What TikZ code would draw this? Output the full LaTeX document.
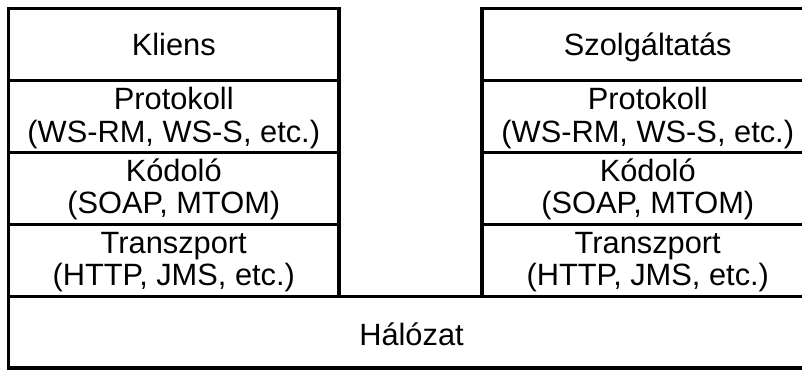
\documentclass[tikz,border=0pt]{standalone}
\usepackage{fontspec}
\setmainfont{Liberation Sans}
\begin{document}
\begin{tikzpicture}[x=1pt,y=-1pt,
  layer/.style={draw, line width=3.2pt, inner sep=0pt, outer sep=0pt,
    anchor=north west, minimum height=72pt},
  lbl/.style={anchor=base, inner sep=0pt,
    font=\fontsize{30.8}{34}\selectfont}]
\useasboundingbox (0,0) rectangle (802,370);
\clip (0,0) rectangle (802,370);
\fill[white] (0,0) rectangle (802,370);

% client stack
\node[layer, minimum width=330.5pt] (kl) at (8.5,8.5) {};
\node[layer, minimum width=330.5pt] (pl) at (8.5,80.5) {};
\node[layer, minimum width=330.5pt] (cl) at (8.5,152.5) {};
\node[layer, minimum width=330.5pt] (tl) at (8.5,224.5) {};

% service stack
\node[layer, minimum width=331.5pt] (sr) at (482,8.5) {};
\node[layer, minimum width=331.5pt] (pr) at (482,80.5) {};
\node[layer, minimum width=331.5pt] (cr) at (482,152.5) {};
\node[layer, minimum width=331.5pt] (tr) at (482,224.5) {};

% shared network layer
\node[layer, minimum width=806pt, minimum height=71.5pt] (net) at (8.5,296.5) {};

% labels
\node[lbl] (kl-t) at ([yshift=-46.5pt]kl.north) {Kliens};
\node[lbl] (sr-t) at ([yshift=-46.5pt]sr.north) {Szolgáltatás};

\node[lbl] (pl-a) at ([yshift=-29pt]pl.north) {Protokoll};
\node[lbl] (pl-b) at ([yshift=-62pt]pl.north) {(WS-RM, WS-S, etc.)};
\node[lbl] (pr-a) at ([yshift=-29pt]pr.north) {Protokoll};
\node[lbl] (pr-b) at ([yshift=-62pt]pr.north) {(WS-RM, WS-S, etc.)};

\node[lbl] (cl-a) at ([yshift=-29pt]cl.north) {Kódoló};
\node[lbl] (cl-b) at ([yshift=-61pt]cl.north) {(SOAP, MTOM)};
\node[lbl] (cr-a) at ([yshift=-29pt]cr.north) {Kódoló};
\node[lbl] (cr-b) at ([yshift=-61pt]cr.north) {(SOAP, MTOM)};

\node[lbl] (tl-a) at ([yshift=-29.3pt]tl.north) {Transzport};
\node[lbl] (tl-b) at ([yshift=-61pt]tl.north) {(HTTP, JMS, etc.)};
\node[lbl] (tr-a) at ([yshift=-29.3pt]tr.north) {Transzport};
\node[lbl] (tr-b) at ([yshift=-61pt]tr.north) {(HTTP, JMS, etc.)};

\node[lbl] (net-t) at ([yshift=-48.5pt]net.north) {Hálózat};
\end{tikzpicture}
\end{document}
